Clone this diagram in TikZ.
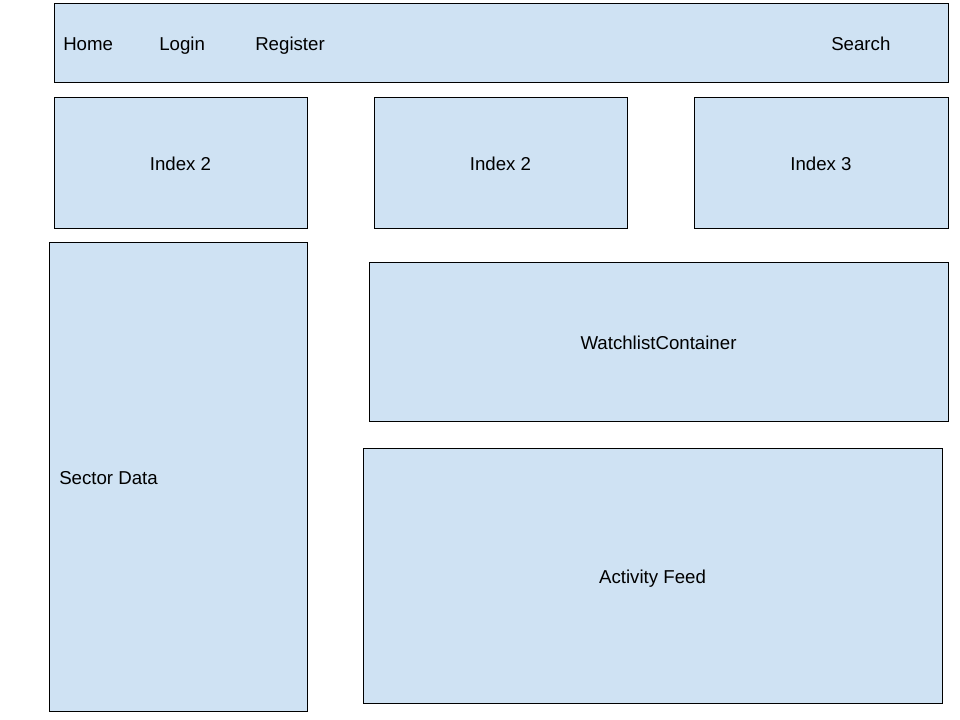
\documentclass[tikz,border=0pt]{standalone}
\usepackage{fontspec}
\setmainfont{Liberation Sans}
\definecolor{boxfill}{HTML}{CFE2F3}
\begin{document}
\begin{tikzpicture}[x=0.75pt,y=-0.75pt,
  panel/.style={draw=black,fill=boxfill,line width=0.75pt},
  lbl/.style={font=\fontsize{14}{17}\selectfont,inner sep=0pt}]
\useasboundingbox (0,0) rectangle (960,720);
\fill[white] (0,0) rectangle (960,720);
\draw[panel] (54,4) rectangle (948,83) coordinate (navbr);
\node[lbl,anchor=base west] (home) at (63,50.8) {Home};
\node[lbl,anchor=base west] (login) at (159,50.8) {Login};
\node[lbl,anchor=base west] (register) at (255,50.8) {Register};
\node[lbl,anchor=base west] (search) at (831,50.8) {Search};
\draw[panel] (54,98) rectangle (307,229);
\node[lbl,anchor=base] (idx1) at (180.5,170.8) {Index 2};
\draw[panel] (374,98) rectangle (627,229);
\node[lbl,anchor=base] (idx2) at (500.5,170.8) {Index 2};
\draw[panel] (694,98) rectangle (948,229);
\node[lbl,anchor=base] (idx3) at (821,170.8) {Index 3};
\draw[panel] (49,243) rectangle (307,711);
\node[lbl,anchor=base west] (sector) at (59,484.8) {Sector Data};
\draw[panel] (369,263) rectangle (948,421);
\node[lbl,anchor=base] (watch) at (658.5,349.8) {WatchlistContainer};
\draw[panel] (363,448) rectangle (942,703);
\node[lbl,anchor=base] (feed) at (652.5,583.8) {Activity Feed};
\end{tikzpicture}
\end{document}
